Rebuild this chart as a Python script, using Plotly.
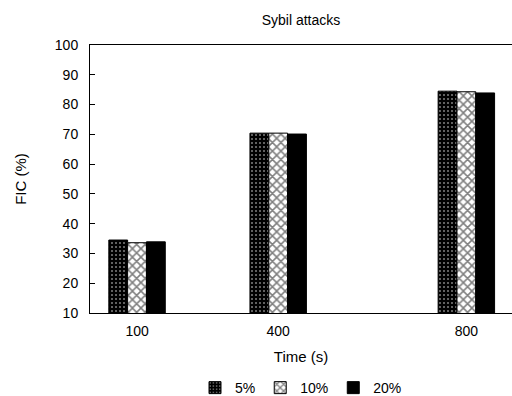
import plotly.graph_objects as go

times = [100, 400, 800]
series_names = ["5%", "10%", "20%"]
fic_5 = [34.5, 70.4, 84.5]
fic_10 = [33.6, 70.4, 84.3]
fic_20 = [33.9, 70.1, 83.9]

patterns = [
    dict(shape=".", bgcolor="black", fgcolor="white", size=4, solidity=0.2),
    dict(shape="x", bgcolor="white", fgcolor="black", size=6, solidity=0.45),
    dict(shape="", bgcolor="black", fgcolor="black"),
]
colors = ["black", "white", "black"]

fig = go.Figure()
for name, vals, pat, col in zip(series_names, [fic_5, fic_10, fic_20], patterns, colors):
    fig.add_trace(go.Bar(
        x=times, y=vals, name=name,
        marker=dict(color=col, pattern=pat, line=dict(color="black", width=1)),
    ))

font = "Liberation Sans, Arial, Helvetica, sans-serif"
fig.update_layout(
    width=512, height=396,
    margin=dict(l=90, r=0, t=45, b=83, autoexpand=False),
    paper_bgcolor="white", plot_bgcolor="white",
    barmode="group", bargap=0.6, bargroupgap=0,
    font=dict(family=font, size=14, color="black"),
    title=dict(text="Sybil attacks", x=301/512, xanchor="center", y=1-20/396, yanchor="middle",
               font=dict(size=14, family=font, color="black")),
    showlegend=True,
    legend=dict(orientation="h", x=0.5, xanchor="center", y=-0.28, yanchor="middle",
                font=dict(size=14, family=font, color="black"), bgcolor="rgba(0,0,0,0)"),
    xaxis=dict(range=[0, 897], tickvals=times, ticktext=[str(t) for t in times],
               showline=True, linecolor="black", linewidth=1, mirror=True,
               ticks="", showgrid=False, zeroline=False, automargin=False,
               ticklabelstandoff=5, tickfont=dict(color="black"),
               title=dict(text="Time (s)", font=dict(size=15, color="black"), standoff=13)),
    yaxis=dict(range=[10, 100], tickvals=list(range(10, 101, 10)),
               showline=True, linecolor="black", linewidth=1, mirror=False,
               ticks="inside", ticklen=5, tickcolor="black", showgrid=False, zeroline=False,
               automargin=False,
               ticklabelstandoff=8, tickfont=dict(color="black"),
               title=dict(text="FIC (%)", font=dict(size=15, color="black"), standoff=24)),
)

fig.write_html("out.html")
